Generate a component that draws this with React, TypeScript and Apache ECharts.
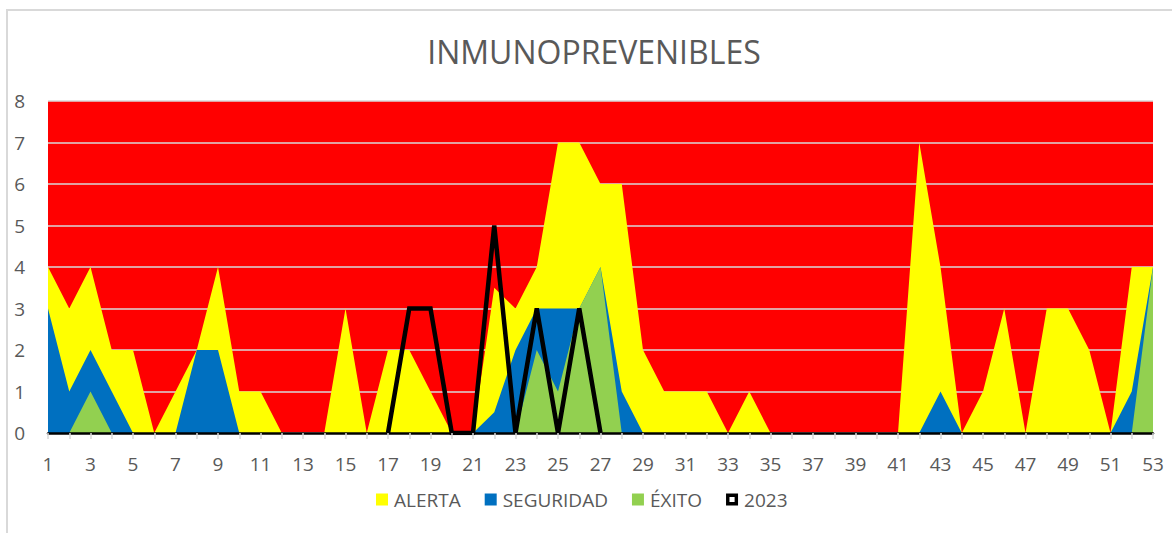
import React, { useEffect, useRef } from "react";
import * as echarts from "echarts";

const weeks: string[] = [
  "1","2","3","4","5","6","7","8","9","10","11","12","13","14","15","16","17","18","19","20",
  "21","22","23","24","25","26","27","28","29","30","31","32","33","34","35","36","37","38","39","40",
  "41","42","43","44","45","46","47","48","49","50","51","52","53",
];

const alerta: number[] = [
  4, 3, 4, 2, 2, 0, 1, 2, 4, 1, 1, 0, 0, 0, 3, 0, 2, 2, 1, 0,
  0, 3.5, 3, 4, 7, 7, 6, 6, 2, 1, 1, 1, 0, 1, 0, 0, 0, 0, 0, 0,
  0, 7, 4, 0, 1, 3, 0, 3, 3, 2, 0, 4, 4,
];

const seguridad: number[] = [
  3, 1, 2, 1, 0, 0, 0, 2, 2, 0, 0, 0, 0, 0, 0, 0, 0, 0, 0, 0,
  0, 0.5, 2, 3, 3, 3, 4, 1, 0, 0, 0, 0, 0, 0, 0, 0, 0, 0, 0, 0,
  0, 0, 1, 0, 0, 0, 0, 0, 0, 0, 0, 1, 4,
];

const exito: number[] = [
  0, 0, 1, 0, 0, 0, 0, 0, 0, 0, 0, 0, 0, 0, 0, 0, 0, 0, 0, 0,
  0, 0, 0, 2, 1, 3, 4, 0, 0, 0, 0, 0, 0, 0, 0, 0, 0, 0, 0, 0,
  0, 0, 0, 0, 0, 0, 0, 0, 0, 0, 0, 0, 4,
];

const y2023: (number | null)[] = [
  null, null, null, null, null, null, null, null, null, null, null, null, null, null, null, null, 0, 3, 3, 0,
  0, 5, 0, 3, 0, 3, 0, null, null, null, null, null, null, null, null, null, null, null, null, null,
  null, null, null, null, null, null, null, null, null, null, null, null, null,
];

const FONT = "Open Sans";
const GREY = "#595959";

export default function App() {
  const ref = useRef<HTMLDivElement>(null);
  useEffect(() => {
    document.body.style.margin = "0";
    const chart = echarts.init(ref.current!, null, { renderer: "svg" });
    const area = (name: string, data: number[], color: string, z: number) => ({
      name,
      type: "line",
      data,
      symbol: "none",
      z,
      lineStyle: { width: 0, color },
      itemStyle: { color },
      areaStyle: { color, opacity: 1 },
    });
    chart.setOption({
      animation: false,
      title: {
        text: "INMUNOPREVENIBLES",
        left: 589,
        textAlign: "center",
        top: 30,
        textStyle: { fontFamily: FONT, fontSize: 32, fontWeight: "normal", color: GREY },
      },
      graphic: [
        {
          type: "rect",
          shape: { x: 7, y: 10, width: 1250, height: 600 },
          style: { fill: "none", stroke: "#d9d9d9", lineWidth: 2 },
          silent: true,
        },
      ],
      legend: {
        left: 371,
        top: 485,
        itemWidth: 12,
        itemHeight: 12,
        itemGap: 24,
        textStyle: { fontFamily: FONT, fontSize: 19, color: GREY, padding: [0, 0, 0, 1] },
        data: [
          { name: "ALERTA", icon: "rect" },
          { name: "SEGURIDAD", icon: "rect" },
          { name: "ÉXITO", icon: "rect" },
          {
            name: "2023",
            icon: "path://M0,0H14V14H0Z M4,4V10H10V4Z",
            itemStyle: { color: "#000" },
          },
        ],
      },
      grid: {
        left: 48,
        right: 19,
        top: 101,
        bottom: 100,
        show: true,
        backgroundColor: "#FF0000",
        borderWidth: 0,
      },
      xAxis: {
        type: "category",
        data: weeks,
        boundaryGap: false,
        z: 10,
        axisLine: { lineStyle: { color: "#000", width: 2.5 } },
        axisTick: { show: true, interval: 0, length: 6, lineStyle: { color: "#d9d9d9", width: 1.5 } },
        axisLabel: { interval: 1, margin: 21, fontFamily: FONT, fontSize: 19, color: GREY },
        splitLine: { show: false },
      },
      yAxis: {
        type: "value",
        min: 0,
        max: 8,
        interval: 1,
        axisLine: { show: false },
        axisTick: { show: false },
        axisLabel: { margin: 23, fontFamily: FONT, fontSize: 19, color: GREY },
        splitLine: { lineStyle: { color: "#d9d9d9", width: 1.5 } },
      },
      series: [
        area("ALERTA", alerta, "#FFFF00", 3),
        area("SEGURIDAD", seguridad, "#0070C0", 4),
        area("ÉXITO", exito, "#92D050", 5),
        {
          name: "2023",
          type: "line",
          data: y2023,
          symbol: "none",
          z: 6,
          connectNulls: false,
          lineStyle: { color: "#000", width: 4.5, join: "miter" },
          itemStyle: { color: "#000" },
        },
      ],
    });
    return () => chart.dispose();
  }, []);
  return <div ref={ref} style={{ width: 1172, height: 533 }} />;
}
